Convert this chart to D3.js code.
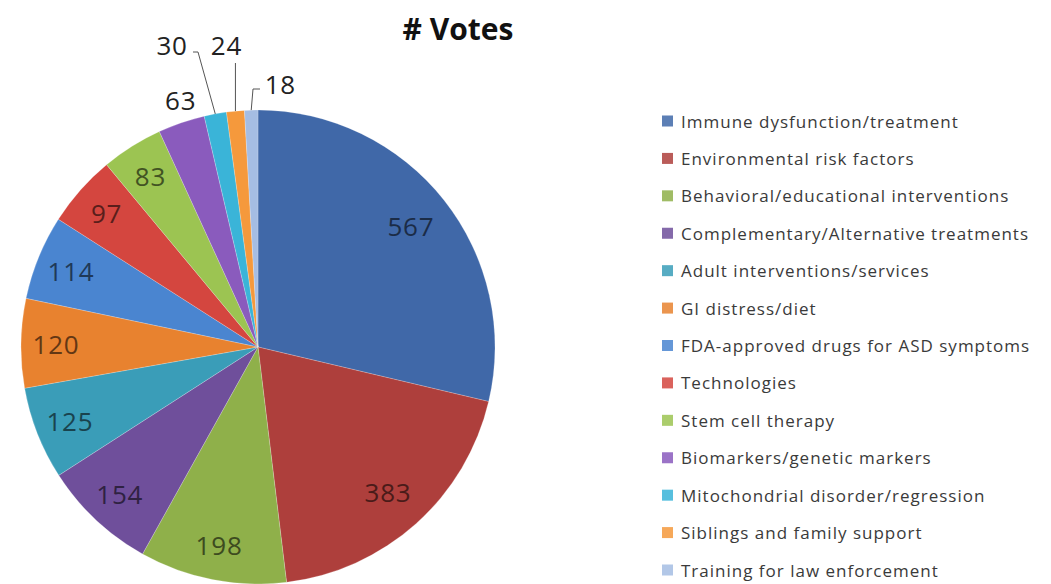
<!DOCTYPE html>
<html><head><meta charset="utf-8">
<script src="https://cdn.jsdelivr.net/npm/d3@7"></script>
<style>body{margin:0;background:#fff}svg{display:block}</style>
</head><body>
<script>
const categories = ["Immune dysfunction/treatment","Environmental risk factors","Behavioral/educational interventions","Complementary/Alternative treatments","Adult interventions/services","GI distress/diet","FDA-approved drugs for ASD symptoms","Technologies","Stem cell therapy","Biomarkers/genetic markers","Mitochondrial disorder/regression","Siblings and family support","Training for law enforcement"];
const votes = [567,383,198,154,125,120,114,97,83,63,30,24,18];
const title = "# Votes";
const colors = ["#4068a8","#ae3f3c","#8fb04a","#6f4f9b","#3a9db8","#e8822f","#4a85d0","#d4463f","#9cc452","#8a5bbd","#3ab4d8","#f5993c","#a5bde3"];

const W=1051,H=584, cx=258, cy=347, R=237;
const svg=d3.select("body").append("svg").attr("width",W).attr("height",H);
const pie=d3.pie().sort(null).value(d=>d)(votes);
const arc=d3.arc().innerRadius(0).outerRadius(R);
const g=svg.append("g").attr("transform",`translate(${cx},${cy})`);
g.selectAll("path").data(pie).join("path").attr("d",arc).attr("fill",(d,i)=>colors[i])
 .attr("stroke","rgba(255,255,255,0.35)").attr("stroke-width",0.6);

const pt=(a,r)=>[r*Math.sin(a), -r*Math.cos(a)];
const mid=d=>(d.startAngle+d.endAngle)/2;
const dark=c=>d3.color(c).darker(2.4);
// outside label layout: [angle shift (deg), radius] for small slices
const outside={9:{da:1.5,r:259},10:{da:-5.5,r:314},11:{da:-0.5,r:304},12:{da:6.5,r:264}};
pie.forEach((d,i)=>{
  const a=mid(d);
  let x,y;
  if(outside[i]){
    const o=outside[i];
    [x,y]=pt(a+o.da*Math.PI/180,o.r);
  } else {
    const r=(i<2)?195:202;
    [x,y]=pt(a,r);
  }
  g.append("text").attr("x",x).attr("y",y).attr("text-anchor","middle").attr("dominant-baseline","central")
   .attr("font-family","Open Sans").attr("font-size",26).attr("letter-spacing",0.8)
   .attr("fill",outside[i]?"#222":dark(colors[i])).text(votes[i]);
});
// leader lines for 30, 24, 18
const lead=d3.line();
[10,11,12].forEach(i=>{
  const d=pie[i], a=mid(d); const e=pt(a,R);
  let pts;
  if(i===10){ pts=[e,[198-cx,52-cy],[193-cx,52-cy]]; }
  else if(i===11){ pts=[e,[e[0],63-cy]]; }
  else { pts=[e,[253-cx,89-cy],[260-cx,89-cy]]; }
  g.append("path").attr("d",lead(pts)).attr("fill","none").attr("stroke","#555").attr("stroke-width",1);
});
svg.append("text").attr("x",458).attr("y",28).attr("text-anchor","middle").attr("dominant-baseline","central")
 .attr("font-family","Open Sans").attr("font-weight","bold").attr("font-size",30).attr("fill","#111").text(title);

const lg=svg.append("g");
const ly=d3.scalePoint().domain(categories).range([121,570]);
categories.forEach((c,i)=>{
  const y=ly(c);
  lg.append("rect").attr("x",662).attr("y",y-5.5).attr("width",11).attr("height",11).attr("fill",colors[i]).attr("opacity",0.85);
  lg.append("text").attr("x",681).attr("y",y).attr("dominant-baseline","central").attr("font-family","Open Sans")
   .attr("font-size",17).attr("letter-spacing",1).attr("fill","#3a3a3a").text(c);
});
</script>
</body></html>
